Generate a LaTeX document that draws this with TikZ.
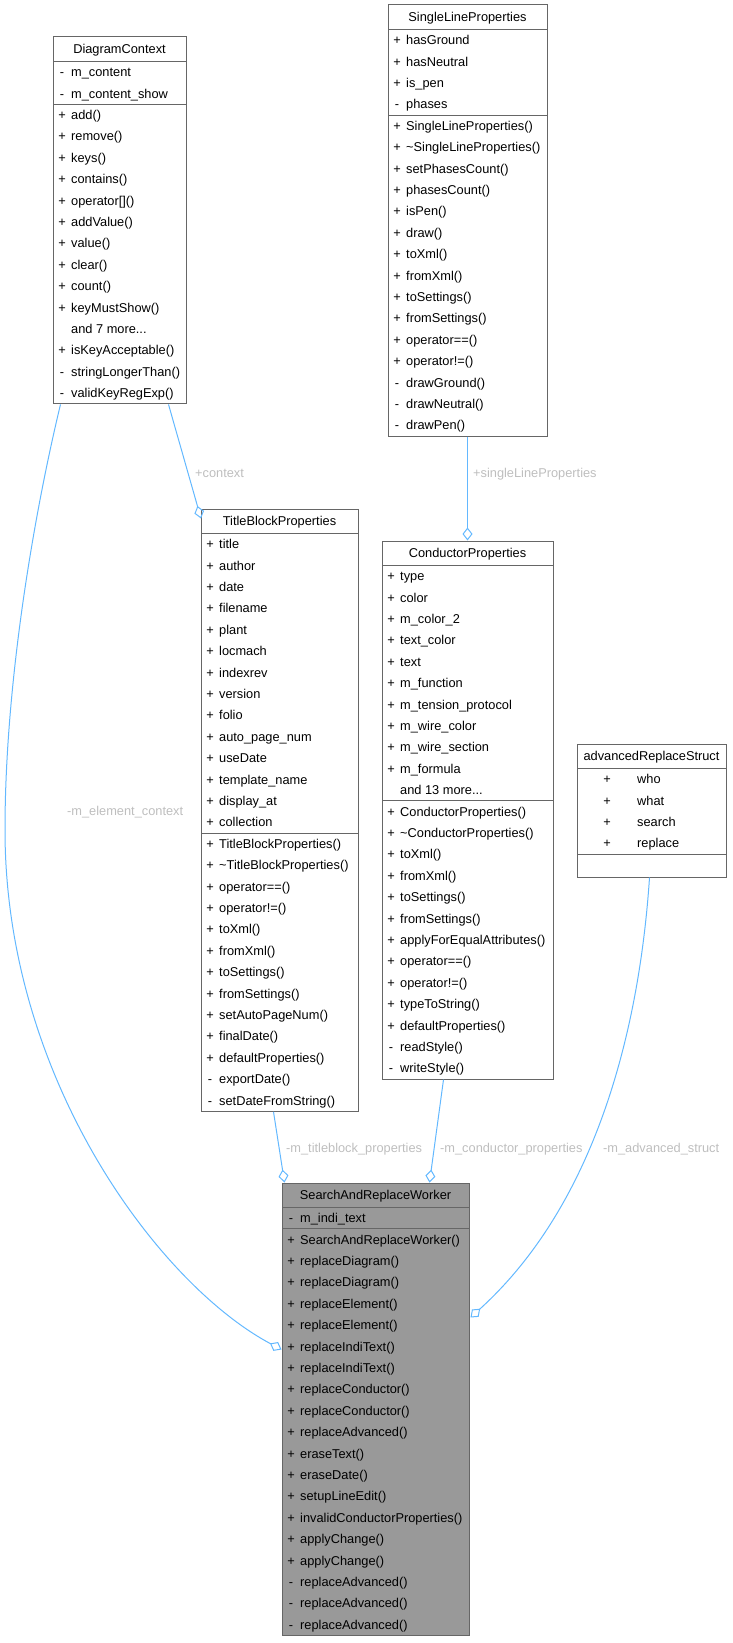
\documentclass[tikz,border=0pt]{standalone}
\usepackage{fontspec}
\setmainfont{Liberation Sans}
\usetikzlibrary{arrows.meta,fit,calc}
\definecolor{edgeblue}{HTML}{63B8FF}
\definecolor{boxline}{HTML}{666666}
\definecolor{labelgray}{HTML}{BEBEBE}
\definecolor{mainfill}{HTML}{999999}
\tikzset{
  box/.style={draw=boxline,line width=1pt,inner sep=0pt,fill=white},
  sepline/.style={draw=boxline,line width=1pt},
  ttl/.style={anchor=base,inner sep=0pt},
  vis/.style={anchor=base,inner sep=0pt},
  mem/.style={anchor=base west,inner sep=0pt},
  lbl/.style={anchor=base west,inner sep=0pt,text=labelgray},
  agg/.style={draw=edgeblue,line width=1pt,-{Diamond[open,length=13pt,width=10pt]}}
}
% class box: name, left, top, right, bottom, title
\newcommand{\umlclass}[7][]{%
  \node[box,#1,fit={(#3,#4) (#5,#6)}] (#2) {};
  \node[ttl] (#2-title) at ({(#3+#5)/2},#4+16.75) {#7};
  \draw[sepline] (#3,#4+24.5) -- (#5,#4+24.5);}
% rows of one section: prefix, left, section top, list
\newcommand{\members}[4]{%
  \foreach \vis/\mem [count=\i from 0] in {#4} {
    \node[vis] (#1v\i) at (#2+9,#3+\i*21.4+15.2) {\vis};
    \node[mem] (#1m\i) at (#2+18,#3+\i*21.4+15.2) {\mem};
  }}
\begin{document}
\begin{tikzpicture}[x=1pt,y=-1pt,font=\fontsize{12.8}{15}\selectfont]
\useasboundingbox (0,0) rectangle (732,1643);

% DiagramContext
\umlclass{ctx}{53}{37}{186}{403.9}{DiagramContext}
\draw[sepline] (53,104.3) -- (186,104.3);
\members{ctxa}{53}{61.5}{-/m\_content, -/m\_content\_show}
\members{ctxo}{53}{104.3}{+/add(), +/remove(), +/keys(), +/contains(), +/{operator[]()},
  +/addValue(), +/value(), +/clear(), +/count(), +/keyMustShow(), {}/{and 7 more...},
  +/isKeyAcceptable(), -/stringLongerThan(), -/validKeyRegExp()}

% SingleLineProperties
\umlclass{slp}{388}{5}{547}{436.1}{SingleLineProperties}
\draw[sepline] (388,115.1) -- (547,115.1);
\members{slpa}{388}{29.5}{+/hasGround, +/hasNeutral, +/is\_pen, -/phases}
\members{slpo}{388}{115.1}{+/SingleLineProperties(), +/\textasciitilde SingleLineProperties(),
  +/setPhasesCount(), +/phasesCount(), +/isPen(), +/draw(), +/toXml(), +/fromXml(),
  +/toSettings(), +/fromSettings(), +/operator==(), +/operator!=(), -/drawGround(),
  -/drawNeutral(), -/drawPen()}

% TitleBlockProperties
\umlclass{tbp}{201}{509}{358}{1111.3}{TitleBlockProperties}
\draw[sepline] (201,833.1) -- (358,833.1);
\members{tbpa}{201}{533.5}{+/title, +/author, +/date, +/filename, +/plant, +/locmach,
  +/indexrev, +/version, +/folio, +/auto\_page\_num, +/useDate, +/template\_name,
  +/display\_at, +/collection}
\members{tbpo}{201}{833.1}{+/TitleBlockProperties(), +/\textasciitilde TitleBlockProperties(),
  +/operator==(), +/operator!=(), +/toXml(), +/fromXml(), +/toSettings(), +/fromSettings(),
  +/setAutoPageNum(), +/finalDate(), +/defaultProperties(), -/exportDate(),
  -/setDateFromString()}

% ConductorProperties
\umlclass{cp}{382}{541}{553}{1079.1}{ConductorProperties}
\draw[sepline] (382,800.9) -- (553,800.9);
\members{cpa}{382}{565.5}{+/type, +/color, +/m\_color\_2, +/text\_color, +/text,
  +/m\_function, +/m\_tension\_protocol, +/m\_wire\_color, +/m\_wire\_section,
  +/m\_formula, {}/{and 13 more...}}
\members{cpo}{382}{800.9}{+/ConductorProperties(), +/\textasciitilde ConductorProperties(),
  +/toXml(), +/fromXml(), +/toSettings(), +/fromSettings(), +/applyForEqualAttributes(),
  +/operator==(), +/operator!=(), +/typeToString(), +/defaultProperties(), -/readStyle(),
  -/writeStyle()}

% advancedReplaceStruct
\umlclass{ars}{577}{744}{726}{877}{advancedReplaceStruct}
\draw[sepline] (577,854.1) -- (726,854.1);
\foreach \mem [count=\i from 0] in {who, what, search, replace} {
  \node[vis] (arsv\i) at (607,768.5+\i*21.4+15.2) {+};
  \node[mem] (arsm\i) at (637,768.5+\i*21.4+15.2) {\mem};
}

% SearchAndReplaceWorker
\umlclass[fill=mainfill]{sarw}{282}{1183}{469}{1635.5}{SearchAndReplaceWorker}
\draw[sepline] (282,1228.9) -- (469,1228.9);
\members{sarwa}{282}{1207.5}{-/m\_indi\_text}
\members{sarwo}{282}{1228.9}{+/SearchAndReplaceWorker(), +/replaceDiagram(), +/replaceDiagram(),
  +/replaceElement(), +/replaceElement(), +/replaceIndiText(), +/replaceIndiText(),
  +/replaceConductor(), +/replaceConductor(), +/replaceAdvanced(), +/eraseText(),
  +/eraseDate(), +/setupLineEdit(), +/invalidConductorProperties(), +/applyChange(),
  +/applyChange(), -/replaceAdvanced(), -/replaceAdvanced(), -/replaceAdvanced()}

% aggregations
\draw[agg] ($(ctx.south west)+(116,0)$) -- ($(tbp.north west)+(0.5,10)$);
\draw[agg] (slp.south) -- (cp.north);
\draw[agg] ($(tbp.south west)+(73,0)$) -- ($(sarw.north west)+(3,0)$);
\draw[agg] ($(cp.south west)+(62,0)$) -- ($(sarw.north west)+(148,0)$);
\draw[agg] ($(ars.south west)+(73,0)$) .. controls (640,1020) and (600,1200) .. ($(sarw.north east)+(1,135)$);
\draw[agg] ($(ctx.south west)+(8,0)$) .. controls (35,510) and (5,680) .. (5,830)
  .. controls (5,1080) and (160,1285) .. ($(sarw.north west)+(0,167)$);

\node[lbl] (lcontext) at (195,477.5) {+context};
\node[lbl] (lsingle) at (473,477.5) {+singleLineProperties};
\node[lbl] (lelement) at (67,815.5) {-m\_element\_context};
\node[lbl] (ltitleblock) at (286,1152.5) {-m\_titleblock\_properties};
\node[lbl] (lconductor) at (440,1152.5) {-m\_conductor\_properties};
\node[lbl] (ladvanced) at (603,1152.5) {-m\_advanced\_struct};
\end{tikzpicture}
\end{document}
